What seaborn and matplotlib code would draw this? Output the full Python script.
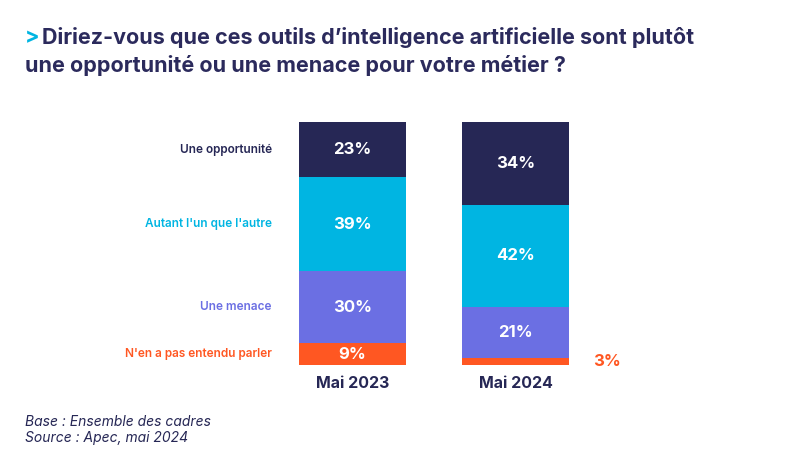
import pandas as pd
import seaborn as sns
import matplotlib.pyplot as plt

years = ['Mai 2023', 'Mai 2024']
responses = ['Une opportunité', "Autant l'un que l'autre", 'Une menace', "N'en a pas entendu parler"]
values_2023 = [23, 39, 30, 9]
values_2024 = [34, 42, 21, 3]
colors = ['#262755', '#00B5E2', '#6B6FE3', '#FF5722']
navy = '#262755'

sns.set_theme(style='white')
plt.rcParams['font.family'] = ['Inter', 'DejaVu Sans']

rows = []
for year, vals in zip(years, [values_2023, values_2024]):
    total = sum(vals)
    cum = 0
    # stack from the bottom: last response is at the bottom, bars filled to full height
    for resp, v in reversed(list(zip(responses, vals))):
        cum += v
        rows.append({'year': year, 'response': resp, 'value': v,
                     'top': cum / total * 100, 'h': v / total * 100})
df = pd.DataFrame(rows)

fig = plt.figure(figsize=(8, 4.69), dpi=100)
W, H = 800, 469
# bars centered at x=352.5 and 515.5 px, 163 px apart, 107 px wide
left_px, right_px = 160, 700
ax = fig.add_axes([left_px / W, 1 - 365 / H, (right_px - left_px) / W, (365 - 122) / H])
unit = 163
bw = 107 / unit

for resp, col in zip(responses, colors):
    sub = df[df.response == resp]
    sns.barplot(data=sub, x='year', y='top', order=years, color=col, width=bw,
                saturation=1, linewidth=0, ax=ax, zorder=2)

ax.set_xlim(-(352.5 - left_px) / unit, (right_px - 352.5) / unit)
ax.set_ylim(0, 100)
ax.set_xlabel('')
ax.set_ylabel('')
ax.set_yticks([])
ax.tick_params(axis='x', length=0, pad=8)
for t in ax.get_xticklabels():
    t.set_fontsize(11.5)
    t.set_fontweight('bold')
    t.set_color(navy)
sns.despine(ax=ax, left=True, bottom=True)

for _, r in df.iterrows():
    xi = years.index(r.year)
    y = r.top - r.h / 2
    label = f"{r.value}%"
    if r.value < 5:
        ax.text(xi + bw / 2 + 0.15, y, label, ha='left', va='center', color=colors[3],
                fontsize=12, fontweight='bold')
    else:
        ax.text(xi, y, label, ha='center', va='center', color='white',
                fontsize=12, fontweight='bold')
    if xi == 0:
        ci = responses.index(r.response)
        ax.text(-0.494, y, r.response, ha='right', va='center', color=colors[ci],
                fontsize=8.5, fontweight='semibold')

title_col = '#2B2A5C'
fig.text(25 / W, 1 - 37 / H, '>', color='#00B5E2', fontsize=15.5, fontweight='bold',
         va='center', ha='left')
fig.text(42 / W, 1 - 37 / H, "Diriez-vous que ces outils d\u2019intelligence artificielle sont plutôt",
         color=title_col, fontsize=15.5, fontweight='bold', va='center', ha='left')
fig.text(25 / W, 1 - 65 / H, "une opportunité ou une menace pour votre métier ?",
         color=title_col, fontsize=15.5, fontweight='bold', va='center', ha='left')

fig.text(25 / W, 1 - 422 / H, 'Base : Ensemble des cadres', color=navy, fontsize=10,
         style='italic', va='center')
fig.text(25 / W, 1 - 438 / H, 'Source : Apec, mai 2024', color=navy, fontsize=10,
         style='italic', va='center')

fig.savefig('out.png', dpi=100)
